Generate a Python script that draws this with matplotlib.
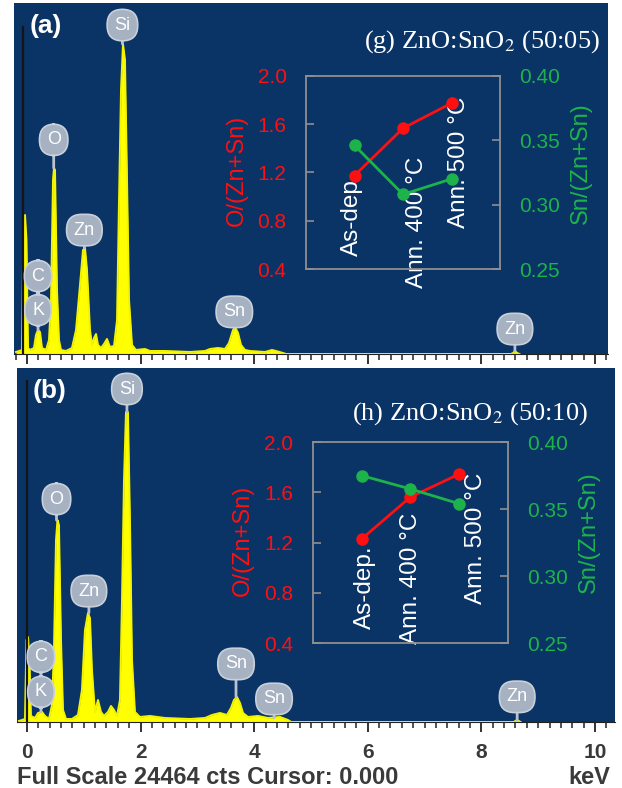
import matplotlib
matplotlib.use('Agg')
import matplotlib.pyplot as plt
from matplotlib.ticker import MultipleLocator, NullFormatter

plt.rcParams['font.family'] = ['Liberation Sans', 'DejaVu Sans']
plt.rcParams['mathtext.fontset'] = 'stix'

# EDS spectra, counts vs energy (keV), full scale 24464 cts
full_scale = 24464

energy_a = [-0.194, -0.088, -0.062, -0.035, -0.009, 0.018, 0.053, 0.123, 0.158, 0.194,
            0.229, 0.264, 0.335, 0.387, 0.423, 0.458, 0.475, 0.493, 0.528, 0.563,
            0.599, 0.687, 0.792, 0.863, 0.933, 0.986, 1.021, 1.056, 1.109, 1.144,
            1.180, 1.215, 1.250, 1.303, 1.356, 1.408, 1.461, 1.532, 1.585, 1.620,
            1.655, 1.690, 1.725, 1.761, 1.796, 1.849, 1.919, 2.077, 2.165, 2.430,
            2.870, 3.134, 3.222, 3.363, 3.486, 3.556, 3.627, 3.662, 3.715, 3.768,
            3.838, 3.926, 4.190, 4.313, 4.384, 4.507, 4.560, 8.520, 8.560, 8.590,
            8.630, 8.670]
counts_a = [139, 279, 9479, 9688, 7946, 418, 279, 418, 1324, 1673,
            1533, 418, 279, 976, 3764, 12128, 12964, 12825, 4461, 976,
            279, 209, 418, 1673, 4809, 7249, 7388, 5855, 1673, 627,
            1115, 1394, 627, 418, 697, 1046, 488, 558, 2370, 10734,
            18401, 21607, 20492, 12128, 3764, 627, 279, 349, 209, 209,
            139, 209, 349, 418, 349, 767, 1673, 1882, 1464, 627,
            279, 209, 139, 279, 209, 70, 0, 0, 70, 209,
            70, 0]

energy_b = [-0.141, -0.035, -0.009, 0.018, 0.044, 0.070, 0.141, 0.194, 0.264, 0.317,
            0.387, 0.440, 0.475, 0.511, 0.537, 0.563, 0.599, 0.634, 0.687, 0.792,
            0.898, 0.968, 1.021, 1.074, 1.109, 1.144, 1.197, 1.250, 1.303, 1.356,
            1.426, 1.479, 1.532, 1.585, 1.637, 1.673, 1.708, 1.743, 1.778, 1.813,
            1.849, 1.901, 1.989, 2.165, 2.430, 2.870, 3.134, 3.257, 3.398, 3.521,
            3.592, 3.644, 3.697, 3.750, 3.803, 3.891, 4.067, 4.243, 4.454, 4.595,
            4.650, 8.570, 8.630, 8.690]
counts_b = [69, 207, 5666, 5874, 4284, 415, 276, 622, 691, 415,
            207, 1175, 4975, 12576, 13958, 13613, 5666, 829, 207, 207,
            484, 2211, 6357, 7532, 7186, 3593, 691, 1520, 691, 415,
            691, 1106, 829, 415, 1520, 8430, 16722, 21421, 21421, 13958,
            4284, 691, 346, 415, 276, 207, 276, 484, 622, 484,
            967, 1520, 1728, 1313, 622, 346, 415, 276, 346, 138,
            0, 0, 138, 0]

# peak tags: element, energy, tag height, height the stem points to
tags_a = [('Si', 1.68, 22923, 21607), ('O', 0.47, 14923, 12964),
          ('Zn', 1.01, 8636, 7388), ('C', 0.194, 5431, 3058),
          ('K', 0.194, 3058, 1673), ('Sn', 3.65, 2936, 1882),
          ('Zn', 8.59, 1737, 209)]
tags_b = [('Si', 1.76, 23021, 21421), ('O', 0.52, 15412, 13958),
          ('Zn', 1.09, 9052, 7532), ('C', 0.246, 4501, 2079),
          ('K', 0.246, 2079, 691), ('Sn', 3.68, 4012, 1728),
          ('Sn', 4.35, 1590, 276), ('Zn', 8.63, 1737, 138)]

# inset: composition ratios
conditions = ['As-dep.', 'Ann. 400 °C', 'Ann. 500 °C']
o_ratio_g = [1.175, 1.567, 1.775]
sn_ratio_g = [0.346, 0.308, 0.320]
o_ratio_h = [1.228, 1.562, 1.745]
sn_ratio_h = [0.375, 0.365, 0.354]

navy = '#0a3366'
red = '#ff1010'
green = '#1db34a'
tag_face = '#a6b1c1'

fig = plt.figure(figsize=(6.22, 7.88), dpi=100)
fig.patch.set_facecolor('white')


def spectrum_panel(rect, energy, counts, tags, xlim, letter, cursor_x, cursor_top):
    ax = fig.add_axes(rect)
    ax.set_facecolor(navy)
    ax.fill_between(energy, 0, counts, color='#ffff00', lw=0, zorder=2)
    ax.plot(energy, counts, color='#f4f400', lw=1.4, zorder=2)
    ax.plot([cursor_x, cursor_x], [0, cursor_top], color='#151515', lw=1.6, zorder=3)
    ax.set_xlim(xlim)
    ax.set_ylim(0, full_scale)
    for sp in ['top', 'left', 'right']:
        ax.spines[sp].set_visible(False)
    ax.spines['bottom'].set_color('#222222')
    ax.set_yticks([])
    ax.xaxis.set_major_locator(MultipleLocator(2))
    ax.xaxis.set_minor_locator(MultipleLocator(0.2))
    ax.tick_params(axis='x', which='major', direction='out', length=7, width=1.3,
                   color='#222222')
    ax.tick_params(axis='x', which='minor', direction='out', length=4, width=1.1,
                   color='#222222')
    for name, e, h, top in tags:
        ax.annotate(name, xy=(e, top), xytext=(e, h), ha='center', va='center',
                    fontsize=13, color='white', zorder=5,
                    bbox=dict(boxstyle='round,pad=0.4,rounding_size=0.85',
                              fc=tag_face, ec='#c8d0da', lw=1.2),
                    arrowprops=dict(arrowstyle='-', color='#b9c2ce', lw=2,
                                    shrinkA=0, shrinkB=0))
    ax.text(0.026, 0.935, letter, transform=ax.transAxes, fontsize=19,
            fontweight='bold', color='white', va='center', ha='left')
    return ax


ax_a = spectrum_panel([0.0225, 0.5508, 0.955, 0.4454], energy_a, counts_a, tags_a,
                      (-0.229, 10.229), '(a)', -0.07, 22800)
ax_a.xaxis.set_major_formatter(NullFormatter())

ax_b = spectrum_panel([0.0273, 0.0838, 0.9614, 0.449], energy_b, counts_b, tags_b,
                      (-0.176, 10.352), '(b)', 0.0, 23600)
ax_b.tick_params(axis='x', which='major', labelsize=15, labelcolor='#3a3a3a', pad=8)
for t in ax_b.get_xticklabels():
    t.set_fontweight('bold')

fig.text(17 / 622, 1 - 778 / 788, 'Full Scale 24464 cts Cursor: 0.000', fontsize=17,
         fontweight='bold', color='#3a3a3a', ha='left', va='center')
fig.text(610 / 622, 1 - 777 / 788, 'keV', fontsize=17, fontweight='bold',
         color='#3a3a3a', ha='right', va='center')


def ratio_inset(rect, o_vals, sn_vals, title, title_xy, label_x, label_top):
    ax = fig.add_axes(rect)
    ax.set_facecolor('none')
    x = range(len(conditions))
    ax.plot(x, o_vals, '-o', color=red, lw=2, ms=8, zorder=4)
    ax.set_xlim(-1, 3)
    ax.set_ylim(0.4, 2.0)
    ax.set_yticks([0.4, 0.8, 1.2, 1.6, 2.0])
    ax.set_xticks([])
    for sp in ax.spines.values():
        sp.set_color('#8f8f8f')
        sp.set_linewidth(1.3)
    ax.tick_params(axis='y', direction='in', length=6, width=1.2, color='#8f8f8f',
                   labelcolor=red, labelsize=15, pad=14)
    ax.set_ylabel('O/(Zn+Sn)', color=red, fontsize=17)
    ax.yaxis.set_label_coords(-0.30, 0.51)

    ax2 = ax.twinx()
    ax2.plot(x, sn_vals, '-o', color=green, lw=2, ms=8, zorder=5)
    ax2.set_ylim(0.25, 0.40)
    ax2.set_yticks([0.25, 0.30, 0.35, 0.40])
    ax2.tick_params(axis='y', direction='in', length=6, width=1.2, color='#8f8f8f',
                    labelcolor=green, labelsize=15, pad=14)
    ax2.set_ylabel('Sn/(Zn+Sn)', color=green, fontsize=17)
    ax2.yaxis.set_label_coords(1.36, 0.55)
    for sp in ax2.spines.values():
        sp.set_visible(False)

    for cx, top, name in zip(label_x, label_top, conditions):
        ax.text(cx, top, name, rotation=90, ha='center', va='top', color='white',
                fontsize=17.5, zorder=2)

    fig.text(title_xy[0], title_xy[1], title, fontsize=19, color='white',
             family=['Liberation Serif', 'DejaVu Serif'], ha='right', va='baseline')
    return ax


ratio_inset([0.492, 0.6586, 0.312, 0.245], o_ratio_g, sn_ratio_g,
            '(g) ZnO:SnO$_2$ (50:05)', (600 / 622, 1 - 48 / 788),
            [-0.06, 1.29, 2.16], [1.2, 1.333, 1.825])
ratio_inset([0.503, 0.184, 0.3135, 0.255], o_ratio_h, sn_ratio_h,
            '(h) ZnO:SnO$_2$ (50:10)', (588 / 622, 1 - 420 / 788),
            [0.06, 1.02, 2.35], [1.18, 1.44, 1.76])

fig.savefig('out.png', dpi=100)
